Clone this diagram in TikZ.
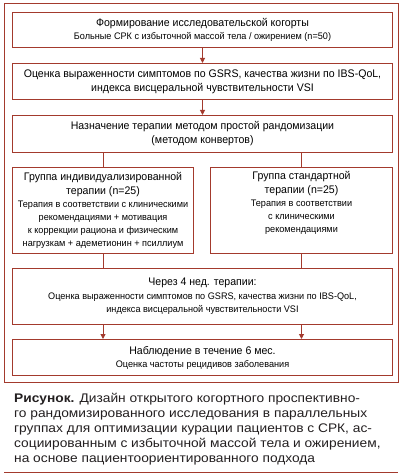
\documentclass[tikz,border=0pt]{standalone}
\usepackage{fontspec}
\setmainfont{Liberation Sans}
\newfontfamily\narrowfont[FakeStretch=0.96]{Liberation Sans}
\newfontfamily\captionfont[FakeStretch=1.1]{Liberation Sans}
\usetikzlibrary{arrows.meta}
\definecolor{framered}{RGB}{163,58,45}
\definecolor{captiongray}{RGB}{35,31,32}
\newcommand{\stagehead}{\fontsize{11}{14}\selectfont}
\newcommand{\stagenote}{\fontsize{9.5}{13}\selectfont}

\begin{document}
\begin{tikzpicture}[x=1pt, y=-1pt,
    stage/.style={rectangle, draw=framered, line width=1pt, anchor=north west, minimum width=380pt, minimum height=36pt, align=center, inner sep=1pt, font=\narrowfont\stagenote},
    link/.style={draw=framered, line width=1pt},
    >={Triangle[length=5pt,width=5pt]}]

            \useasboundingbox (0,0) rectangle (402,476);
            % Outer frame
            \draw[link] (4,4) rectangle (398,382);
            % Cohort
            \node[stage, minimum height=35pt] (cohort) at (12,12) {{\stagehead Формирование исследовательской когорты}\\Больные СРК с избыточной массой тела / ожирением (n=50)};
            % Baseline assessment
            \node[stage, font=\narrowfont\stagehead] (assess) at (12,63) {Оценка выраженности симптомов по GSRS, качества жизни по IBS-QoL,\\индекса висцеральной чувствительности VSI};
            % Randomisation
            \node[stage, minimum height=37pt, font=\narrowfont\stagehead] (assign) at (12,115) {Назначение терапии методом простой рандомизации\\(методом конвертов)};
            % Groups
            \node[stage, minimum width=181pt, minimum height=86pt] (indiv) at (12,167) {{\stagehead Группа индивидуализированной}\\[1pt]{\stagehead терапии (n=25)}\\Терапия в соответствии с клиническими\\рекомендациями + мотивация\\к коррекции рациона и физическим\\нагрузкам + адеметионин + псиллиум};
            \node[stage, minimum width=182pt, minimum height=86pt] (standard) at (210,167) {{\stagehead Группа стандартной}\\[1pt]{\stagehead терапии (n=25)}\\Терапия в соответствии\\с клиническими\\рекомендациями\\\strut};
            % Follow-up after 4 weeks
            \node[stage, minimum height=56pt] (followup) at (12,268) {{\stagehead Через 4 нед. терапии:}\\[1pt]Оценка выраженности симптомов по GSRS, качества жизни по IBS-QoL,\\индекса висцеральной чувствительности VSI};
            % Observation
            \node[stage] (observe) at (12,339) {{\stagehead Наблюдение в течение 6 мес.}\\Оценка частоты рецидивов заболевания};

            \draw[link, ->] (cohort) -- (assess);
            \draw[link, ->] (assess) -- (assign);

            \draw[link] (indiv.north |- assign.south) -- (indiv.north);
            \draw[link] (standard.north |- assign.south) -- (standard.north);

            \draw[link] (indiv.south) -- (indiv.south |- followup.north);
            \draw[link] (standard.south) -- (standard.south |- followup.north);

            \draw[link, ->] (indiv.south |- followup.south) -- (indiv.south |- observe.north);
            \draw[link, ->] (standard.south |- followup.south) -- (standard.south |- observe.north);

            % Caption
            \node[anchor=base west, align=left, inner sep=0pt, text=captiongray, font=\captionfont\fontsize{12.5}{15}\selectfont] (caption) at (14,462) {\textbf{Рисунок.} Дизайн открытого когортного проспективно-\\го рандомизированного исследования в параллельных\\группах для оптимизации курации пациентов с СРК, ас-\\социированным с избыточной массой тела и ожирением,\\на основе пациентоориентированного подхода};
            \coordinate (ruleleft) at (4,472);
            \coordinate (ruleright) at (398,472);
            \draw[link] (ruleleft) -- (ruleright);

        \end{tikzpicture}
\end{document}
